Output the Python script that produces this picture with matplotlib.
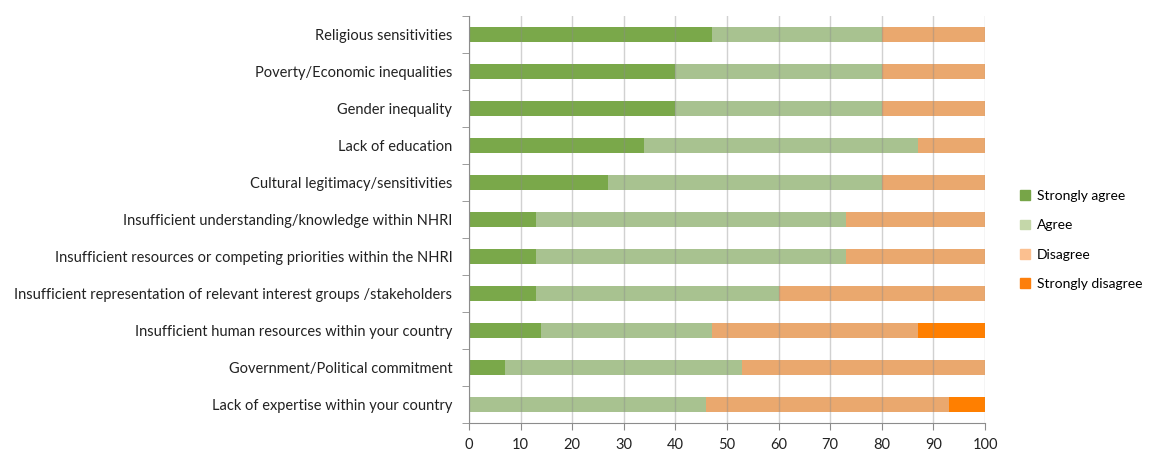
import numpy as np
import matplotlib.pyplot as plt

plt.rcParams['font.family'] = ['Lato', 'DejaVu Sans']

# survey items, listed top to bottom
categories = [
    "Religious sensitivities",
    "Poverty/Economic inequalities",
    "Gender inequality",
    "Lack of education",
    "Cultural legitimacy/sensitivities",
    "Insufficient understanding/knowledge within NHRI",
    "Insufficient resources or competing priorities within the NHRI",
    "Insufficient representation of relevant interest groups /stakeholders",
    "Insufficient human resources within your country",
    "Government/Political commitment",
    "Lack of expertise within your country",
]

# percentage of respondents per answer
strongly_agree = [47, 40, 40, 34, 27, 13, 13, 13, 14, 7, 0]
agree = [33, 40, 40, 53, 53, 60, 60, 47, 33, 46, 46]
disagree = [20, 20, 20, 13, 20, 27, 27, 40, 40, 47, 47]
strongly_disagree = [0, 0, 0, 0, 0, 0, 0, 0, 13, 0, 7]

series = [strongly_agree, agree, disagree, strongly_disagree]
labels = ["Strongly agree", "Agree", "Disagree", "Strongly disagree"]
bar_colors = ["#7aa84a", "#a8c290", "#eaa86e", "#ff7f00"]
legend_colors = ["#77a548", "#c4d7a9", "#fbc090", "#fd7f0c"]

fig = plt.figure(figsize=(11.49, 4.57), dpi=100)
ax = fig.add_axes([469 / 1149, 1 - 423 / 457, 516 / 1149, 407 / 457])

y = np.arange(len(categories))
left = np.zeros(len(categories))
for vals, col in zip(series, bar_colors):
    vals = np.array(vals, dtype=float)
    ax.barh(y, vals, left=left, height=0.42, color=col, zorder=2)
    left += vals

# gridlines show faintly through the bars
ax.set_axisbelow(False)
ax.xaxis.grid(True, color="#8c8c8c", linewidth=1.0, alpha=0.4, zorder=3)

ax.set_xlim(0, 100)
ax.set_ylim(len(categories) - 0.5, -0.5)
ax.set_xticks(np.arange(0, 101, 10))
ax.set_yticks(y)
ax.set_yticklabels(categories, fontsize=10.5, color="#222222")
ax.set_yticks(np.arange(-0.5, len(categories), 1), minor=True)
ax.tick_params(axis="y", which="major", length=0, pad=12)
ax.tick_params(axis="y", which="minor", length=5, color="#8c8c8c")
ax.tick_params(axis="x", length=5, color="#8c8c8c", labelsize=10.5,
               labelcolor="#222222", pad=6)

for side in ["top", "right"]:
    ax.spines[side].set_visible(False)
for side in ["left", "bottom"]:
    ax.spines[side].set_color("#8c8c8c")

handles = [plt.Rectangle((0, 0), 1, 1, color=c) for c in legend_colors]
fig.legend(handles, labels, loc="center left", bbox_to_anchor=(1016 / 1149, 1 - 240 / 457),
           frameon=False, fontsize=10, handlelength=0.7, handleheight=0.7,
           handletextpad=0.5, labelspacing=1.25, borderaxespad=0, borderpad=0.3)

fig.savefig("out.png", dpi=100)
